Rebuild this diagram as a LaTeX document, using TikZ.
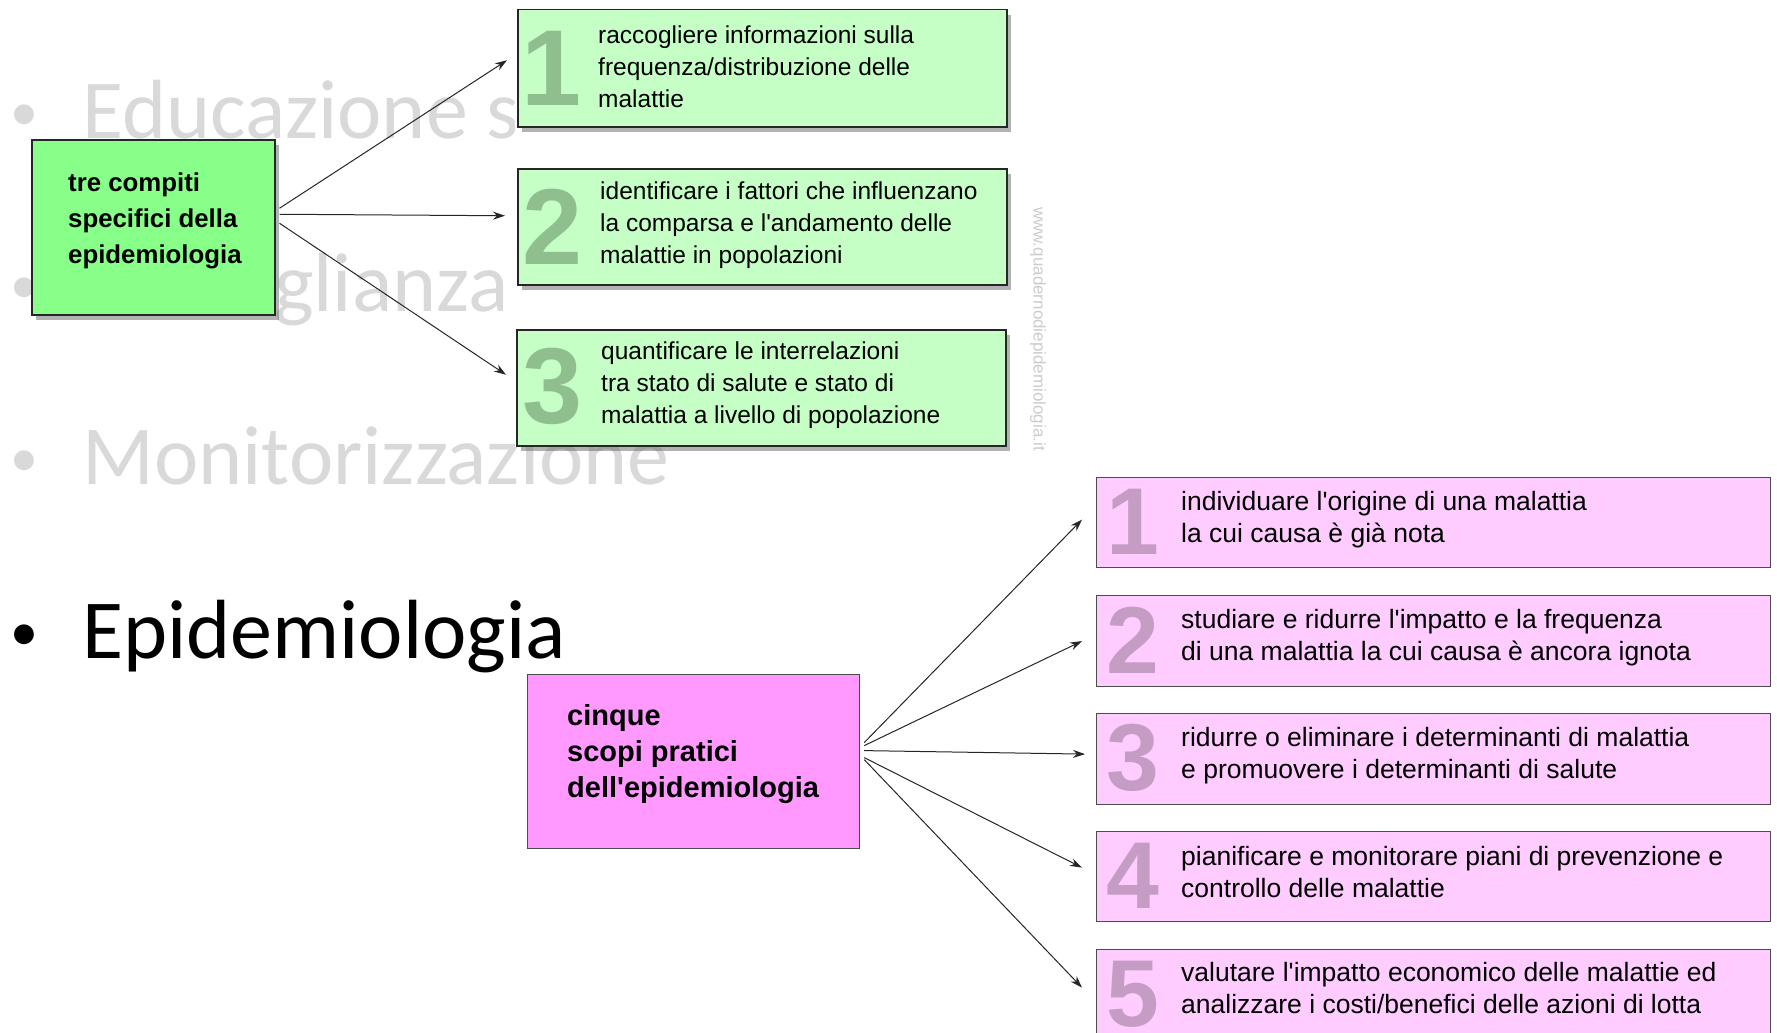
\documentclass[tikz,border=0pt]{standalone}
\usepackage{fontspec}
\setmainfont{Liberation Sans}[Ligatures=TeXOff]
\newfontfamily\slidefont{Carlito}
\usepackage{tikz}
\usetikzlibrary{positioning, calc, shadows, arrows.meta}

\definecolor{slidegrey}{HTML}{D9D9D9}
\definecolor{srcgreen}{HTML}{88FF88}
\definecolor{itemgreen}{HTML}{C6FFC6}
\definecolor{numgreen}{HTML}{8FBF8F}
\definecolor{srcpink}{HTML}{FF99FF}
\definecolor{itempink}{HTML}{FFCCFF}
\definecolor{numpink}{HTML}{C49CC4}

\begin{document}
\begin{tikzpicture}[x=1pt, y=-1pt,
  slidetext/.style={anchor=base west, inner sep=0, text=slidegrey, font=\slidefont\fontsize{84}{100}\selectfont},
  slidedot/.style={anchor=base, inner sep=0, text=slidegrey, font=\slidefont\fontsize{56}{60}\selectfont},
  greenbox/.style={draw=black!85, line width=1.5pt, anchor=north west, inner sep=0,
    drop shadow={shadow xshift=4pt, shadow yshift=-5pt, fill=black!60}},
  pinkbox/.style={draw=black!70, line width=1.2pt, anchor=north west, inner sep=0},
  bignum/.style={inner sep=0, font=\bfseries\fontsize{108}{108}\selectfont},
  task/.style={anchor=west, align=left, inner sep=0, font=\fontsize{24.5}{32}\selectfont},
  aim/.style={anchor=west, align=left, inner sep=0, font=\fontsize{26.5}{32}\selectfont},
  link/.style={draw=black!85, line width=1pt, -{Stealth[length=12pt, width=8pt]}}
]
\useasboundingbox (0,0) rectangle (1777,1033);
\clip (0,0) rectangle (1777,1033);
\fill[white] (0,0) rectangle (1777,1033);

% Slide bullets behind the diagrams
\node[slidedot] (dotA) at (24,130) {•};
\node[slidetext] (edu) at (82,138) {Educazione s};
\node[slidedot] (dotB) at (24,303) {•};
\node[slidetext] (sorv) at (82,311) {Sorveglianza};
\node[slidedot] (dotC) at (24,476) {•};
\node[slidetext] (monit) at (82,484) {Monitorizzazione};
\node[slidedot, text=black] (dotD) at (24,650) {•};
\node[slidetext, text=black] (epid) at (82,658) {Epidemiologia};

% White ground of the upper picture
\fill[white] (515,0) rectangle (1070,447);
\node[rotate=-90, inner sep=0, text=black!20, font=\fontsize{17}{17}\selectfont] (web) at (1038,329) {www.quadernodiepidemiologia.it};

% Three tasks
\node[greenbox, fill=srcgreen, minimum width=243pt, minimum height=175pt] (gsrc) at (31,139) {};
\node[anchor=west, align=left, inner sep=0, font=\bfseries\fontsize{25.8}{36}\selectfont] (gtitle) at (68,221) {tre compiti\\specifici della\\epidemiologia};

\node[greenbox, fill=itemgreen, minimum width=489pt, minimum height=117pt] (g1) at (517,9) {};
\node[bignum, text=numgreen] (gn1) at (552,68) {1};
\node[task] (gt1) at (598,67) {raccogliere informazioni sulla\\frequenza/distribuzione delle\\malattie};

\node[greenbox, fill=itemgreen, minimum width=489pt, minimum height=116pt] (g2) at (517,168) {};
\node[bignum, text=numgreen] (gn2) at (553,227) {2};
\node[task] (gt2) at (600,225) {identificare i fattori che influenzano\\la comparsa e l'andamento delle\\malattie in popolazioni};

\node[greenbox, fill=itemgreen, minimum width=489pt, minimum height=116pt] (g3) at (516,329) {};
\node[bignum, text=numgreen] (gn3) at (553,386) {3};
\node[task] (gt3) at (601,385) {quantificare le interrelazioni\\tra stato di salute e stato di\\malattia a livello di popolazione};

\draw[link] ([xshift=4pt,yshift=19pt]gsrc.east) -- ([xshift=-10pt,yshift=8pt]g1.west);
\draw[link] ([xshift=4pt,yshift=13pt]gsrc.east) -- ([xshift=-12pt,yshift=11pt]g2.west);
\draw[link] ([xshift=4pt,yshift=4pt]gsrc.east) -- ([xshift=-10pt,yshift=13pt]g3.west);

% Five aims
\node[pinkbox, fill=srcpink, minimum width=332pt, minimum height=174pt] (psrc) at (527,674) {};
\node[anchor=west, align=left, inner sep=0, font=\bfseries\fontsize{29}{36}\selectfont] (ptitle) at (567,754) {cinque\\scopi pratici\\dell'epidemiologia};

\node[pinkbox, fill=itempink, minimum width=674pt, minimum height=90pt] (p1) at (1096,477) {};
\node[bignum, text=numpink, font=\bfseries\fontsize{95}{95}\selectfont] (pn1) at (1133,522) {1};
\node[aim] (pt1) at (1181,520) {individuare l'origine di una malattia\\la cui causa è già nota};

\node[pinkbox, fill=itempink, minimum width=674pt, minimum height=91pt] (p2) at (1096,595) {};
\node[bignum, text=numpink, font=\bfseries\fontsize{95}{95}\selectfont] (pn2) at (1133,640) {2};
\node[aim] (pt2) at (1181,638) {studiare e ridurre l'impatto e la frequenza\\di una malattia la cui causa è ancora ignota};

\node[pinkbox, fill=itempink, minimum width=674pt, minimum height=91pt] (p3) at (1096,713) {};
\node[bignum, text=numpink, font=\bfseries\fontsize{95}{95}\selectfont] (pn3) at (1133,758) {3};
\node[aim] (pt3) at (1181,756) {ridurre o eliminare i determinanti di malattia\\e promuovere i determinanti di salute};

\node[pinkbox, fill=itempink, minimum width=674pt, minimum height=90pt] (p4) at (1096,831) {};
\node[bignum, text=numpink, font=\bfseries\fontsize{95}{95}\selectfont] (pn4) at (1133,876) {4};
\node[aim] (pt4) at (1181,872) {pianificare e monitorare piani di prevenzione e\\controllo delle malattie};

\node[pinkbox, fill=itempink, minimum width=674pt, minimum height=90pt] (p5) at (1096,949) {};
\node[bignum, text=numpink, font=\bfseries\fontsize{95}{95}\selectfont] (pn5) at (1133,994) {5};
\node[aim] (pt5) at (1181,988) {valutare l'impatto economico delle malattie ed\\analizzare i costi/benefici delle azioni di lotta};

\draw[link] ([xshift=4pt,yshift=19pt]psrc.east) -- ([xshift=-14pt,yshift=3pt]p1.west);
\draw[link] ([xshift=4pt,yshift=16pt]psrc.east) -- ([xshift=-14pt]p2.west);
\draw[link] ([xshift=4pt,yshift=11pt]psrc.east) -- ([xshift=-11pt,yshift=5pt]p3.west);
\draw[link] ([xshift=4pt,yshift=4pt]psrc.east) -- ([xshift=-14pt,yshift=9pt]p4.west);
\draw[link] ([xshift=4pt,yshift=2pt]psrc.east) -- ([xshift=-14pt,yshift=7pt]p5.west);
\end{tikzpicture}
\end{document}
